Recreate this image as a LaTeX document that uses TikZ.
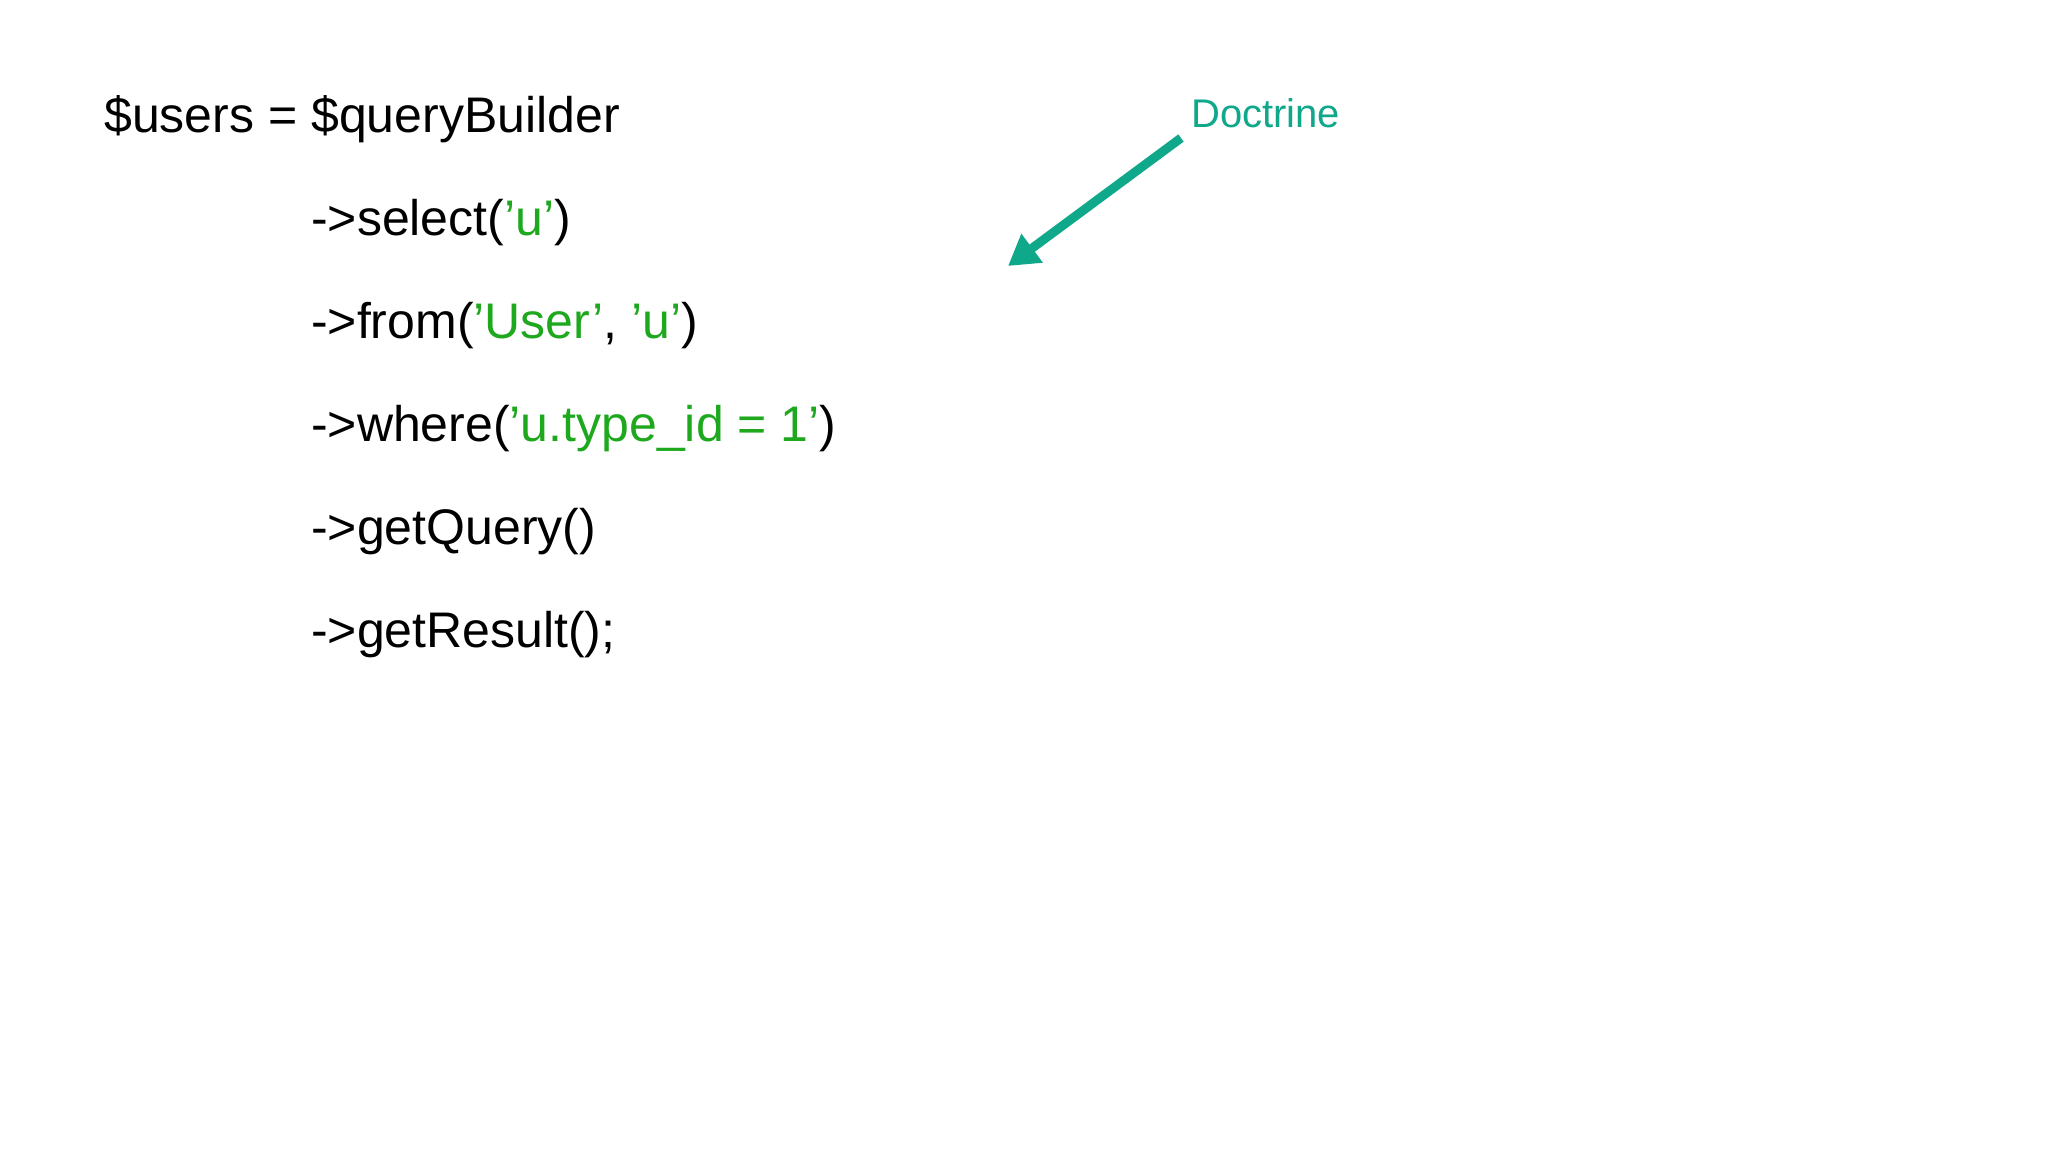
\documentclass[tikz,border=0pt]{standalone}
\usepackage{fontspec}
\setmainfont{Liberation Sans}
\usetikzlibrary{arrows.meta}
\definecolor{str}{RGB}{30,168,30}
\definecolor{doc}{RGB}{16,168,138}
\begin{document}
\begin{tikzpicture}[x=1pt,y=-1pt,
  code/.style={anchor=base west,inner sep=0pt,font=\fontsize{50}{60}\selectfont}]
\useasboundingbox[fill=white] (0,0) rectangle (2048,1152);
\node[code] (l1) at (104,132) {\$users = \$queryBuilder};
\node[code] (l2) at (311,235) {->select(\textcolor{str}{'u'})};
\node[code] (l3) at (311,338) {->from(\textcolor{str}{'User'}, \textcolor{str}{'u'})};
\node[code] (l4) at (311,441) {->where(\textcolor{str}{'u.type\_id = 1'})};
\node[code] (l5) at (311,544) {->getQuery()};
\node[code] (l6) at (311,647) {->getResult();};
\node[anchor=base west,inner sep=0pt,text=doc,font=\fontsize{40}{48}\selectfont] (doc) at (1191,127) {Doctrine};
\coordinate (tail) at (1181,138);
\coordinate (tip) at (1008,266);
\draw[doc,line width=9pt,-{Triangle[length=30pt,width=34pt]}] (tail) -- (tip);
\end{tikzpicture}
\end{document}
